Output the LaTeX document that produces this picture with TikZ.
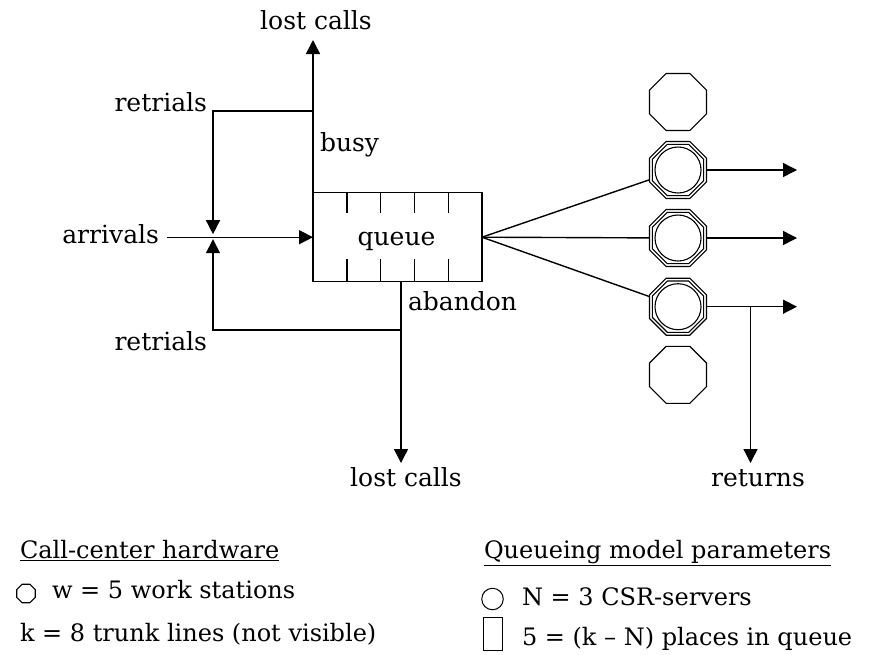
\documentclass[tikz,border=0pt]{standalone}
\usepackage{fontspec}
\setmainfont{DejaVu Serif}
\usetikzlibrary{arrows.meta,shapes.geometric,calc}
\begin{document}
\begin{tikzpicture}[x=1pt,y=-1pt,
  every node/.style={font=\fontsize{25}{30}\selectfont, inner sep=0pt, outer sep=0pt},
  leg/.style={font=\fontsize{24}{29}\selectfont, anchor=base west},
  ln/.style={line width=1.4pt},
  arr/.style={ln,-{Triangle[length=14pt,width=14pt]}},
  oct/.style={draw, line width=1.1pt, regular polygon, regular polygon sides=8, minimum size=61.7pt},
  inoct/.style={draw, line width=1.1pt, regular polygon, regular polygon sides=8, minimum size=55.6pt},
  srvcirc/.style={draw, line width=1.1pt, circle, minimum size=46pt}]
\useasboundingbox (0,0) rectangle (869,654);

% queue
\node[draw, ln, minimum width=169pt, minimum height=89pt] (q) at (397.5,237.2) {};
\node[anchor=base] (qt) at (396.5,245) {queue};
\foreach \i in {1,...,4} {
  \draw[ln] ($(q.north west)+(33.8*\i,0)$) -- ++(0,20.3);
  \draw[ln] ($(q.south west)+(33.8*\i,0)$) -- ++(0,-22.7);
}

% junction and arrivals
\coordinate (J) at (213,237.2);
\node[anchor=base east] (arrv) at (159,243) {arrivals};
\coordinate (a0) at (166.7,237.2);
\draw[arr] (a0) -- (q.west);

% busy / lost calls top
\node[anchor=base] (lc1) at (316,29) {lost calls};
\coordinate (ltip) at (313,40);
\draw[arr] (q.north west) -- (ltip);
\node[anchor=base west] (busy) at (320,151.7) {busy};
\coordinate (r1) at (313,111);
\draw[arr, shorten >=3pt] (r1) -| (J);
\node[anchor=base east] (ret1) at (207,111.7) {retrials};

% abandon / lost calls bottom
\coordinate (ab) at (401,281.7);
\coordinate (btip) at (401,463);
\draw[arr] (ab) -- (btip);
\node[anchor=base] (lc2) at (406,486) {lost calls};
\node[anchor=base west] (aband) at (408,310) {abandon};
\coordinate (ab2) at (401,330);
\draw[arr, shorten >=2pt] (ab2) -| (J);
\node[anchor=base east] (ret2) at (207,350) {retrials};

% work stations and servers
\node[oct] (w1) at (678,102) {};
\node[oct] (w5) at (678,374.8) {};
\foreach \n/\y in {1/170, 2/238, 3/306.7} {
  \node[oct] (s\n) at (678,\y) {};
  \node[inoct] (si\n) at (678,\y) {};
  \node[srvcirc] (sc\n) at (678,\y) {};
  \draw[ln] (q.east) -- (s\n);
  \coordinate (o\n) at (797,\y);
  \draw[arr] (s\n.east) -- (o\n);
}

% returns
\coordinate (rt) at (750.5,306.7);
\coordinate (rtip) at (750.5,463);
\draw[arr] (rt) -- (rtip);
\node[anchor=base] (retn) at (758,486) {returns};

% legend
\node[leg] (lh) at (20,558) {\underline{Call-center hardware}};
\node[oct, minimum size=20pt] (lo) at (26,593.5) {};
\node[leg] (lw) at (52,598) {w = 5 work stations};
\node[leg] (lk) at (20,641) {k = 8 trunk lines (not visible)};
\node[leg] (rh) at (484,558) {\underline{Queueing model parameters}};
\node[draw, line width=1pt, circle, minimum size=21.5pt] (lc) at (492.5,599) {};
\node[leg] (ln1) at (522,605) {N = 3 CSR-servers};
\node[draw, line width=1pt, minimum width=19pt, minimum height=33pt] (lr) at (492.5,633.5) {};
\node[leg] (ln2) at (522,645) {5 = (k – N) places in queue};
\end{tikzpicture}
\end{document}
